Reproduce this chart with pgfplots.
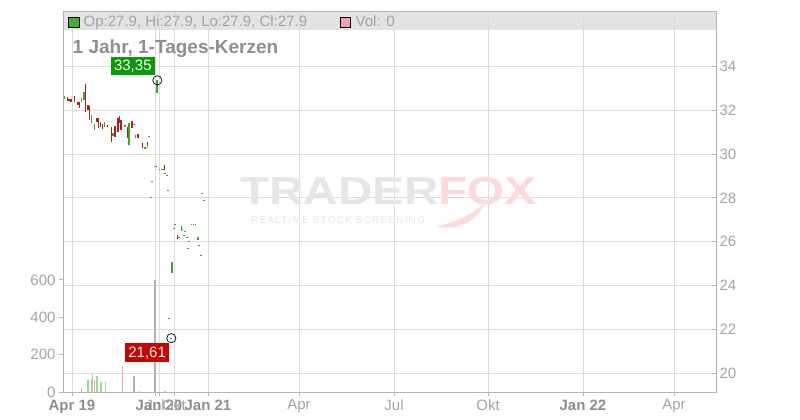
\documentclass[border=0pt]{standalone}
\usepackage{fontspec}
\setmainfont{Liberation Sans}
\usepackage{pgfplots}
\usepackage{pgfplotstable}
\pgfplotsset{compat=1.18}

\definecolor{cgreen}{HTML}{3DA52B}
\definecolor{cred}{HTML}{B01E1E}
\definecolor{vgreen}{HTML}{9FDA95}
\definecolor{vred}{HTML}{F0A3AC}
\definecolor{vgrey}{HTML}{B0B0B0}
\definecolor{gridc}{HTML}{DBDBDB}
\definecolor{axc}{HTML}{B4B4B4}
\definecolor{txt}{HTML}{A3A3A3}
\definecolor{txtb}{HTML}{8E8E8E}
\definecolor{hdr}{HTML}{E3E3E3}
\definecolor{wmgrey}{HTML}{E6E6E6}
\definecolor{wmpink}{HTML}{FADADA}
\definecolor{boxgreen}{HTML}{0A990A}
\definecolor{boxred}{HTML}{CC0000}

% candles: position, low, high
\pgfplotstableread{
x lo hi
64.5 32.50 32.66
81.5 32.36 32.57
84.3 32.46 32.84
91.5 31.43 31.78
94.5 31.10 31.36
104.5 31.23 31.45
112.7 30.84 30.94
125 31.25 31.30
129.3 30.41 31.40
134 31.30 31.35
135.5 30.72 30.87
145 30.25 30.30
147.5 30.30 30.34
149.3 30.80 30.84
151.3 28.00 28.05
152.3 28.73 28.78
154.5 29.42 29.46
156 29.42 29.46
157.3 32.80 33.38
159.5 29.28 29.33
161.5 29.28 29.33
163 29.28 29.33
165.3 29.10 29.14
167.3 28.98 29.02
168.3 28.34 28.38
169 22.49 22.53
171.3 21.58 21.62
172.3 24.59 25.09
174.3 26.58 26.62
175.3 26.78 26.82
179 26.18 26.22
181.5 26.50 26.72
182.5 26.56 26.60
184.3 26.27 26.32
185 26.47 26.51
187.3 26.18 26.22
188.3 25.68 25.72
189.3 26.00 26.04
191.5 26.78 26.82
193.5 26.78 26.82
195.5 26.78 26.82
198.3 26.08 26.20
199.3 25.79 25.83
201.3 25.36 25.40
202.3 28.19 28.23
204.3 27.87 27.91
}\greencandles

\pgfplotstableread{
x lo hi
67.5 32.40 32.60
69 32.42 32.50
71 32.39 32.50
74.5 32.39 32.63
78 32.24 32.39
79.5 32.11 32.39
85.5 31.90 33.18
88 32.01 32.24
89.5 31.55 32.20
97 31.45 31.63
98.5 31.17 31.66
100.5 31.25 31.47
102.5 31.13 31.36
107.5 31.22 31.32
111.5 30.56 31.25
115.3 30.79 31.29
118 31.02 31.63
119.5 31.40 31.73
121 31.10 31.55
127.5 30.74 31.25
131.7 31.17 31.51
138 30.72 30.90
142.5 30.26 30.49
147.5 30.38 30.53
164.5 29.27 29.51
177.5 26.14 26.32
}\redcandles

% volume
\pgfplotstableread{
x v
81.5 21
88 66
91.3 72
92.3 98
97 83
100.9 51
105.3 51
}\volgreen
\pgfplotstableread{
x v
94.3 66
122.3 141
165 7
}\volred
\pgfplotstableread{
x v
134.2 87
139.3 7
155 601
}\volgrey

\begin{document}
\begin{tikzpicture}
\begin{scope}[x=1pt,y=1pt]
  \path[use as bounding box] (0,0) rectangle (800,420);
  % watermark
  \node[anchor=base west, inner sep=0pt, xscale=1.22,
        font=\fontsize{39}{40}\selectfont\bfseries] at (240,215)
        {\color{wmgrey}TRADER\color{wmpink}FOX};
  \node[anchor=base west, inner sep=0pt, text=wmgrey,
        font=\fontsize{10}{12}\selectfont\addfontfeature{LetterSpace=12}] at (251,196.7)
        {REALTIME STOCK SCREENING};
  \fill[wmpink] (437,193.5) .. controls (460,189) and (478,200) .. (485,218)
     .. controls (474,206) and (458,199) .. (437,193.5) -- cycle;
\end{scope}

% volume axis
\begin{axis}[
  at={(63pt,28pt)}, anchor=south west,
  scale only axis, width=653pt, height=381pt,
  xmin=63, xmax=716, ymin=0, ymax=2039,
  ytick={0,200,400,600}, ytick pos=left,
  xtick={72,155,159,174,208,299,394,488,583,674},
  xticklabels={{\textbf{\color{txtb}Apr 19}},Jul,{\textbf{\color{txtb}Jan 20}},Okt,
    {\textbf{\color{txtb}Jan 21}},Apr,Jul,Okt,{\textbf{\color{txtb}Jan 22}},Apr},
  xtick pos=left,
  tick align=outside, major tick length=4pt,
  tick style={axc, line width=0.8pt},
  axis line style={axc, line width=0.9pt},
  ticklabel style={font=\fontsize{15}{18}\selectfont, text=txt},
  /pgf/number format/assume math mode=true,
]
\addplot[ycomb, vgreen, line width=1.3pt] table[x=x, y=v] {\volgreen};
\addplot[ycomb, vred, line width=1.3pt] table[x=x, y=v] {\volred};
\addplot[ycomb, vgrey, line width=1.6pt] table[x=x, y=v] {\volgrey};
\end{axis}

% price axis
\begin{axis}[
  set layers,
  at={(63pt,28pt)}, anchor=south west,
  scale only axis, width=653pt, height=381pt,
  xmin=63, xmax=716, ymin=19.147, ymax=36.52,
  xtick={72,155,159,174,208,299,394,488,583,674}, xticklabels={},
  xtick style={draw=none},
  ytick={20,22,...,34}, ytick pos=right, yticklabel pos=right,
  tick align=inside, major tick length=4pt,
  ytick style={axc, line width=0.8pt},
  grid=major, grid style={gridc, line width=0.9pt},
  axis line style={axc, line width=0.9pt},
  ticklabel style={font=\fontsize{15}{18}\selectfont, text=txt},
  /pgf/number format/assume math mode=true,
  clip=false,
]
\begin{pgfonlayer}{axis background}
  \fill[hdr] (rel axis cs:0,0.9501) rectangle (rel axis cs:1,1);
\end{pgfonlayer}
\addplot[draw=none, no markers, forget plot,
  error bars/.cd, y dir=plus, y explicit, error mark=none,
  error bar style={draw=cred, line width=1.9pt}]
  table[x=x, y=lo, y error expr=\thisrow{hi}-\thisrow{lo}] {\redcandles};
\addplot[draw=none, no markers, forget plot,
  error bars/.cd, y dir=plus, y explicit, error mark=none,
  error bar style={draw=cgreen, line width=1.9pt}]
  table[x=x, y=lo, y error expr=\thisrow{hi}-\thisrow{lo}] {\greencandles};
\addplot[only marks, mark=o, mark size=4.6pt, black, line width=0.7pt]
  coordinates {(157.3,33.36) (171.3,21.60)};
\coordinate (hi) at (axis cs:157.3,33.36);
\coordinate (lo) at (axis cs:171.3,21.60);
\end{axis}

\begin{scope}[x=1pt,y=1pt]
  % header line
  \filldraw[fill=cgreen!95!white, draw=black, line width=0.7pt] (68.3,392.7) rectangle (79,402.7);
  \node[anchor=base west, inner sep=0pt, text=txt, font=\fontsize{15}{18}\selectfont]
     at (83.5,393.3) {Op:27.9, Hi:27.9, Lo:27.9, Cl:27.9};
  \filldraw[fill=vred, draw=black, line width=0.7pt] (340.7,392.7) rectangle (350.7,402.7);
  \node[anchor=base west, inner sep=0pt, text=txt, font=\fontsize{15}{18}\selectfont]
     at (355.5,393.3) {Vol: 0};
  % title
  \node[anchor=base west, inner sep=0pt, text=txtb, font=\fontsize{19}{22}\selectfont\bfseries]
     at (72.5,366) {1 Jahr, 1-Tages-Kerzen};
  % high / low labels
  \node[anchor=south east, fill=boxgreen, text=white, inner xsep=3.2pt, inner ysep=0pt,
        minimum height=18.5pt, font=\fontsize{15}{18}\selectfont]
     at ([xshift=-2.3pt,yshift=4.6pt]hi) {33,35};
  \node[anchor=north east, fill=boxred, text=white, inner xsep=3.2pt, inner ysep=0pt,
        minimum height=19pt, font=\fontsize{15}{18}\selectfont]
     at ([xshift=-2pt,yshift=-5pt]lo) {21,61};
\end{scope}
\end{tikzpicture}
\end{document}
